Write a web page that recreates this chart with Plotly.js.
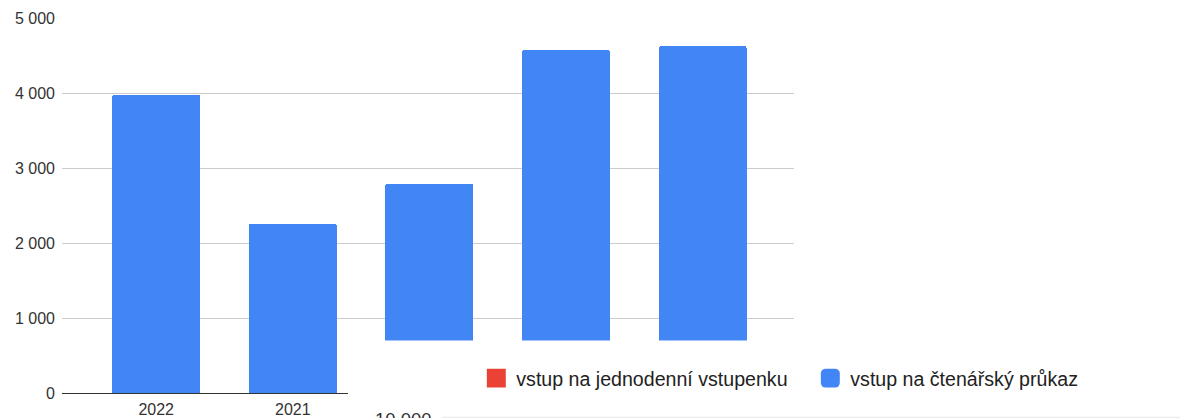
<!DOCTYPE html>
<html>
<head>
<meta charset="utf-8">
<script src="https://cdn.plot.ly/plotly-3.0.1.min.js"></script>
<style>
  html, body { margin: 0; padding: 0; background: #ffffff; }
  #chart { width: 1180px; height: 418px; }
</style>
</head>
<body>
<div id="chart"></div>
<script>
// ---- data ----
const categories = ['2022', '2021', '2020', '2019', '2018'];
const tickLabels = ['2022', '2021', '', '', ''];
const readerCardValues = [3980, 2255, 2790, 4570, 4625];   // vstup na čtenářský průkaz
const dayTicketValues = [null, null, null, null, null];     // vstup na jednodenní vstupenku (not visible)
const seriesNames = ['vstup na jednodenní vstupenku', 'vstup na čtenářský průkaz'];
const yTicks = [0, 1000, 2000, 3000, 4000, 5000];
const lowerChartTick = '10 000';

const FONT = 'Liberation Sans, Arial, sans-serif';

const traces = [
  {
    type: 'bar',
    name: seriesNames[0],
    x: categories,
    y: dayTicketValues,
    marker: { color: '#ea4335' },
    hoverinfo: 'skip'
  },
  {
    type: 'bar',
    name: seriesNames[1],
    x: categories,
    y: readerCardValues,
    marker: { color: '#4285f4', cornerradius: 2 },
    hoverinfo: 'skip'
  }
];

const layout = {
  width: 1180,
  height: 418,
  margin: { l: 62, r: 386, t: 18, b: 25, pad: 0 },
  paper_bgcolor: '#ffffff',
  plot_bgcolor: '#ffffff',
  barmode: 'stack',
  bargap: 0.356,
  separators: ', ',
  font: { family: FONT, size: 16, color: '#333333' },
  showlegend: true,
  legend: {
    orientation: 'h',
    x: 0.566,
    xanchor: 'left',
    y: 0.039,
    yanchor: 'middle',
    traceorder: 'normal',
    entrywidth: 289,
    entrywidthmode: 'pixels',
    font: { family: FONT, size: 19.6, color: '#222222' },
    bgcolor: 'rgba(0,0,0,0)',
    itemclick: false,
    itemdoubleclick: false
  },
  xaxis: {
    type: 'category',
    categoryorder: 'array',
    categoryarray: categories,
    tickvals: categories,
    ticktext: tickLabels,
    range: [-0.6896, 4.669],
    showgrid: false,
    zeroline: false,
    showline: true,
    linecolor: '#333333',
    linewidth: 1,
    ticks: '',
    ticklabelstandoff: 2,
    tickfont: { family: FONT, size: 16, color: '#333333' },
    fixedrange: true
  },
  yaxis: {
    range: [0, 5000],
    tickvals: yTicks,
    tickformat: ',',
    showgrid: true,
    gridcolor: '#cccccc',
    gridwidth: 1,
    zeroline: false,
    showline: false,
    ticks: '',
    ticklabelstandoff: 6,
    tickfont: { family: FONT, size: 16, color: '#333333' },
    fixedrange: true
  },
  shapes: [
    {
      type: 'rect', layer: 'above',
      xref: 'paper', yref: 'paper',
      x0: 0.3907, x1: 1.53, y0: -0.08, y1: 0.14,
      fillcolor: '#ffffff', line: { width: 0 }
    },
    {
      type: 'line', layer: 'above',
      xref: 'paper', yref: 'paper',
      x0: 0.519, x1: 1.53, y0: -0.0647, y1: -0.0647,
      line: { color: '#e6e6e6', width: 1 }
    }
  ],
  annotations: [
    {
      text: lowerChartTick,
      xref: 'paper', yref: 'paper',
      x: 0.4665, y: -0.0368,
      xanchor: 'center', yanchor: 'top',
      showarrow: false,
      font: { family: FONT, size: 18.5, color: '#333333' }
    }
  ]
};

Plotly.newPlot('chart', traces, layout, { staticPlot: true, displayModeBar: false }).then(function () {
  document.querySelectorAll('.legendpoints path').forEach(function (p) {
    var t = p.getAttribute('transform') || '';
    p.setAttribute('transform', t + ' scale(1.58)');
  });
});
</script>
</body>
</html>
